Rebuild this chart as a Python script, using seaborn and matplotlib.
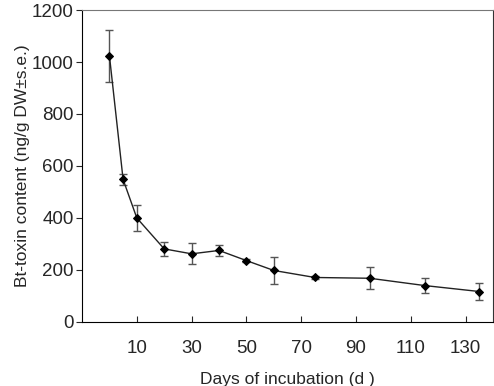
import seaborn as sns
import matplotlib.pyplot as plt
import pandas as pd

days = [0, 5, 10, 20, 30, 40, 50, 60, 75, 95, 115, 135]
toxin = [1025, 548, 400, 281, 262, 275, 236, 198, 171, 168, 140, 117]
se = [100, 21, 51, 28, 40, 20, 5, 52, 6, 42, 28, 33]
xticks = [10, 30, 50, 70, 90, 110, 130]
yticks = [0, 200, 400, 600, 800, 1000, 1200]

df = pd.DataFrame({'day': days, 'toxin': toxin, 'se': se})

sns.set_style("ticks")
plt.rcParams['font.family'] = ['Liberation Sans', 'DejaVu Sans']

fig = plt.figure(figsize=(4.94, 3.86), dpi=100)
ax = fig.add_axes([0.166, 0.166, 0.832, 0.808])

ax.errorbar(df['day'], df['toxin'], yerr=df['se'], fmt='none',
            ecolor='#555555', elinewidth=1, capsize=3, capthick=1, zorder=2)
sns.lineplot(data=df, x='day', y='toxin', ax=ax, color='#222222', linewidth=1,
             marker='D', markersize=4.5, markeredgecolor='black',
             markerfacecolor='black', zorder=3)

ax.set_xlim(-10, 140)
ax.set_ylim(0, 1200)
ax.set_xticks(xticks)
ax.set_yticks(yticks)
ax.tick_params(axis='x', direction='in', length=4, labelsize=13.5, pad=13, top=False)
ax.tick_params(axis='y', direction='out', length=4, labelsize=13.5, pad=2, right=False)
for side in ['top', 'right']:
    ax.spines[side].set_visible(True)
ax.spines['top'].set_color('#777777')
ax.spines['right'].set_color('#333333')
for side in ['left', 'bottom']:
    ax.spines[side].set_color('black')

ax.set_xlabel("Days of incubation (d )", fontsize=12.5, labelpad=11)
ax.set_ylabel("Bt-toxin content (ng/g DW±s.e.)", fontsize=12.5, labelpad=1)

fig.savefig("out.png", dpi=100)
